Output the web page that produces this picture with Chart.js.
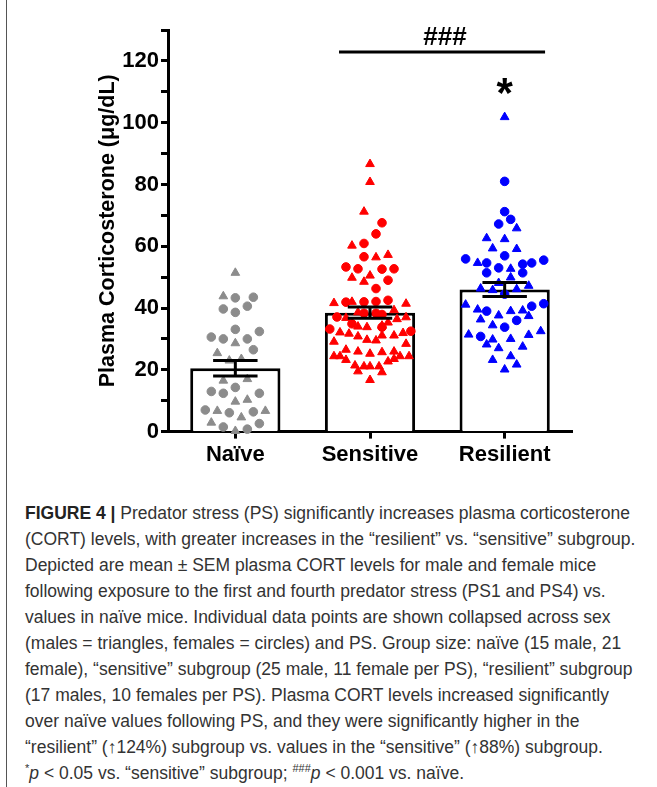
<!DOCTYPE html>
<html lang="en">
<head>
<meta charset="UTF-8">
<title>Plasma Corticosterone</title>
<script src="https://cdn.jsdelivr.net/npm/chart.js"></script>
<style>
  body { margin: 0; background: #fff; }
  #wrap { position: relative; width: 657px; height: 787px; overflow: hidden; }
  #frame { position: absolute; left: 6px; top: 0; height: 787px; border-left: 1.5px solid #555; }
  #potGraph { position: absolute; left: 0; top: 0; }
  #caption {
    position: absolute; left: 25px; top: 500px;
    font-family: "Liberation Sans", Arial, sans-serif;
    font-size: 17.5px; line-height: 26px; color: #333;
    white-space: nowrap;
  }
  #caption b { color: #222; }
  #caption sup { font-size: 11px; line-height: 0; vertical-align: 7px; }
</style>
</head>
<body>
<div id="wrap">
  <div id="frame"></div>
  <canvas id="potGraph" width="657" height="480"></canvas>
  <div id="caption">
    <b>FIGURE 4 |</b> Predator stress (PS) significantly increases plasma corticosterone<br>
    (CORT) levels, with greater increases in the “resilient” vs. “sensitive” subgroup.<br>
    Depicted are mean ± SEM plasma CORT levels for male and female mice<br>
    following exposure to the first and fourth predator stress (PS1 and PS4) vs.<br>
    values in naïve mice. Individual data points are shown collapsed across sex<br>
    (males = triangles, females = circles) and PS. Group size: naïve (15 male, 21<br>
    female), “sensitive” subgroup (25 male, 11 female per PS), “resilient” subgroup<br>
    (17 males, 10 females per PS). Plasma CORT levels increased significantly<br>
    over naïve values following PS, and they were significantly higher in the<br>
    “resilient” (↑124%) subgroup vs. values in the “sensitive” (↑88%) subgroup.<br>
    <sup>*</sup><i>p</i> &lt; 0.05 vs. “sensitive” subgroup; <sup>###</sup><i>p</i> &lt; 0.001 vs. naïve.
  </div>
</div>
<script>
    const categories = ['Naïve', 'Sensitive', 'Resilient'];
    const meanValues = [20.5, 38.5, 46.0];
    const semValues = [2.5, 1.8, 2.3];

    // individual animals: males = triangles, females = circles
    // *Slot arrays = horizontal column of each point in the swarm
    const naiveMale = [51.4, 43.8, 28.6, 25.4, 23.0, 23.5, 16.5, 17.0, 9.7, 10.3, 6.7, 6.7, 4.6, 2.9, 0.2];
    const naiveMaleSlot = [0, -2, 0, -3, -1, 1, -2, 2, 0, 2, -3, 5, 1, -4, 0];
    const naiveFemale = [43.3, 43.5, 39.7, 38.6, 40.6, 33.1, 32.4, 30.6, 30.0, 30.0, 26.5, 14.3, 13.0, 12.4, 12.4, 7.0, 6.1, 6.4, 2.6, 1.5, 0.8];
    const naiveFemaleSlot = [0, 3, -2, 0, 2, 0, 4, -4, -2, 2, 3, 0, -4, -2, 4, -5, -1, 3, 4, -2, 2];

    const sensMale = [86.6, 80.8, 71.2, 60.2, 56.4, 57.2, 49.8, 50.5, 48.5, 41.6, 42.0, 41.4, 39.3,
        36.8, 38.6, 36.4, 37.0, 35.3, 34.0, 33.8, 34.3, 32.1, 31.7, 30.8, 31.1, 31.1, 31.9,
        29.1, 29.7, 29.5, 28.4, 26.5, 25.9, 25.2, 25.7, 25.9, 24.4, 24.4, 23.2, 24.4, 24.4,
        22.7, 23.5, 21.4, 21.1, 21.1, 21.1, 19.5, 19.2, 16.7];
    const sensMaleSlot = [0, 0, -1, -3, 1, 3, -3, 0, -1, -6, -3, 6, 4,
        -4, -2, 4.5, 6, 3, -2, -0.5, 2, -5, -3.5, -2, 2, 4, 5.5,
        -6, -0.5, 1, 6, -4, -2, 0, 2, 4, -6, -5, -4, 5, 6.5,
        3, 4, -2.5, -1, 0, 1.5, -2, 2, 0];
    const sensFemale = [67.6, 64.0, 60.9, 56.6, 53.3, 52.7, 52.6, 52.7, 49.0, 46.3, 41.9, 42.0, 42.1, 42.5,
        37.1, 38.3, 38.3, 37.9, 34.9, 33.8, 33.2, 32.5];
    const sensFemaleSlot = [2, 1, -1, -1, -4, -2, 2, 4, 3, 1, -4, -1, 1, 3,
        -5.5, -1, 1, 2, -3, 2, -6.7, 6.8];

    const resMale = [101.8, 65.8, 62.6, 62.3, 59.3, 59.1, 54.6, 52.7, 49.9, 48.1, 46.3, 45.8, 46.1, 47.2,
        41.1, 39.5, 39.0, 39.2, 36.3, 37.6, 37.4, 34.4, 31.4, 29.8, 30.0, 31.3, 32.5,
        28.2, 27.0, 27.5, 23.2, 24.4, 21.7, 20.1];
    const resMaleSlot = [0, 2, -3, 0, -2, 2, -4.5, 1, 1, -1, -4, -2, 2, 4,
        -6.5, -4.5, 1, 3, -4, -1, 4, -2, -6, -2, 1, 4, 6,
        -3, -1, 3, -2, 1, 2, 0];
    const resFemale = [81.0, 71.2, 67.2, 68.7, 56.9, 55.9, 54.6, 53.0, 54.2, 54.6, 55.5, 51.4, 51.4,
        44.5, 39.0, 40.6, 41.4, 36.0, 33.8, 30.8];
    const resFemaleSlot = [0, 0, -1, 1, 0, -6.5, -3, -1, 3, 4.5, 6.5, -3, 3,
        0, -3, 4.5, 6.5, 2, 0, -4];

    const groupColors = ['#8c8c8c', '#ff0000', '#0000ff'];
    const sigLine = { from: 0.77, to: 2.3, value: 122.9, text: '###' };
    const starMark = { group: 2, value: 105, text: '*' };

    const SLOT = 0.0446;
    function swarm(group, values, slots, shape) {
        return {
            type: 'scatter',
            xAxisID: 'xs',
            yAxisID: 'y',
            data: values.map((v, i) => ({ x: group + slots[i] * SLOT, y: v })),
            pointStyle: shape,
            pointRadius: shape === 'triangle' ? 5 : 4.3,
            backgroundColor: groupColors[group],
            borderColor: groupColors[group],
            borderWidth: 1,
            clip: false,
            order: 1
        };
    }

    const annotate = {
        id: 'annotate',
        afterDatasetsDraw(chart) {
            const ctx = chart.ctx;
            const xs = chart.scales.xs, y = chart.scales.y;
            ctx.save();
            ctx.strokeStyle = '#000';
            ctx.lineWidth = 3;
            // mean +/- SEM
            meanValues.forEach((m, i) => {
                const cx = xs.getPixelForValue(i);
                const l = xs.getPixelForValue(i - 0.165), r = xs.getPixelForValue(i + 0.165);
                const top = y.getPixelForValue(m + semValues[i]);
                const bot = y.getPixelForValue(m - semValues[i]);
                ctx.beginPath();
                ctx.moveTo(cx, top); ctx.lineTo(cx, bot);
                ctx.moveTo(l, top); ctx.lineTo(r, top);
                ctx.moveTo(l, bot); ctx.lineTo(r, bot);
                ctx.stroke();
            });
            // significance vs naive
            const ly = y.getPixelForValue(sigLine.value);
            const x1 = xs.getPixelForValue(sigLine.from), x2 = xs.getPixelForValue(sigLine.to);
            ctx.beginPath();
            ctx.moveTo(x1, ly); ctx.lineTo(x2, ly);
            ctx.stroke();
            ctx.fillStyle = '#000';
            ctx.textAlign = 'center';
            ctx.textBaseline = 'alphabetic';
            ctx.font = 'bold 26px "Liberation Sans", Arial, sans-serif';
            ctx.fillText(sigLine.text, (x1 + x2) / 2 + 3, ly - 7);
            // significance vs sensitive
            ctx.font = 'bold 42px "Liberation Sans", Arial, sans-serif';
            ctx.fillText(starMark.text, xs.getPixelForValue(starMark.group), y.getPixelForValue(starMark.value));
            ctx.restore();
        }
    };

    const ctx = document.getElementById('potGraph').getContext('2d');
    const chart = new Chart(ctx, {
        type: 'bar',
        data: {
            labels: categories,
            datasets: [
                {
                    type: 'bar',
                    xAxisID: 'x',
                    yAxisID: 'y',
                    data: meanValues,
                    backgroundColor: '#ffffff',
                    borderColor: '#000000',
                    borderWidth: 3,
                    grouped: false,
                    barPercentage: 0.67,
                    categoryPercentage: 1,
                    order: 10
                },
                swarm(0, naiveMale, naiveMaleSlot, 'triangle'),
                swarm(0, naiveFemale, naiveFemaleSlot, 'circle'),
                swarm(1, sensMale, sensMaleSlot, 'triangle'),
                swarm(1, sensFemale, sensFemaleSlot, 'circle'),
                swarm(2, resMale, resMaleSlot, 'triangle'),
                swarm(2, resFemale, resFemaleSlot, 'circle')
            ]
        },
        options: {
            responsive: false,
            animation: false,
            layout: { padding: { top: 30, right: 85, bottom: 9, left: 0 } },
            plugins: { legend: { display: false }, tooltip: { enabled: false } },
            scales: {
                x: {
                    type: 'category',
                    offset: true,
                    grid: { offset: false, drawOnChartArea: false, drawTicks: true, tickLength: 7, tickWidth: 3, tickColor: '#000' },
                    border: { display: true, width: 3, color: '#000' },
                    ticks: { color: '#000', padding: 3, font: { family: '"Liberation Sans", Arial, sans-serif', size: 22, weight: 'bold' } }
                },
                xs: { type: 'linear', min: -0.5, max: 2.5, offset: false, display: false },
                y: {
                    min: 0,
                    max: 130,
                    afterFit(scale) { scale.width = 168; },
                    grid: { drawOnChartArea: false, drawTicks: true, tickLength: 7, tickWidth: 3, tickColor: '#000' },
                    border: { display: true, width: 3, color: '#000' },
                    ticks: {
                        stepSize: 10,
                        color: '#000',
                        padding: 2,
                        font: { family: '"Liberation Sans", Arial, sans-serif', size: 22, weight: 'bold' },
                        callback: v => (v % 20 === 0 ? v : '')
                    },
                    title: {
                        display: true,
                        text: 'Plasma Corticosterone (μg/dL)',
                        color: '#000',
                        padding: { top: 95 },
                        font: { family: '"Liberation Sans", Arial, sans-serif', size: 21.5, weight: 'bold' }
                    }
                }
            }
        },
        plugins: [annotate]
    });
</script>
</body>
</html>
